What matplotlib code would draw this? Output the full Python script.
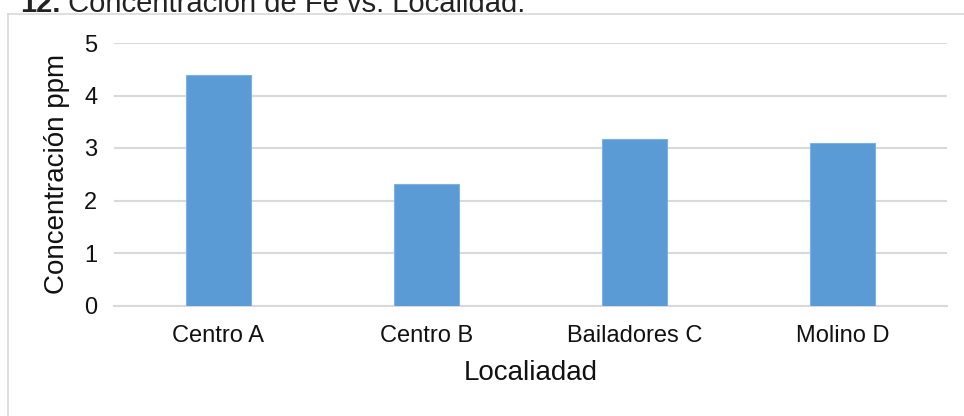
import matplotlib
matplotlib.use("Agg")
import matplotlib.pyplot as plt
from matplotlib.lines import Line2D
from matplotlib.text import Annotation

plt.rcParams['font.family'] = ['Liberation Sans', 'DejaVu Sans']

localidades = ["Centro A", "Centro B", "Bailadores C", "Molino D"]
concentracion = [4.39, 2.32, 3.18, 3.09]
y_ticks = [0, 1, 2, 3, 4, 5]

W, H = 964, 416
fig = plt.figure(figsize=(W / 100, H / 100), dpi=100)

# chart frame (top and left edges)
fig.add_artist(Line2D([7.5 / W, 7.5 / W], [-0.1, 1 - 13.5 / H], color="#D9D9D9", lw=1.2,
                      transform=fig.transFigure))
fig.add_artist(Line2D([7.5 / W, 1.1], [1 - 13.5 / H, 1 - 13.5 / H], color="#D9D9D9", lw=1.2,
                      transform=fig.transFigure))

# title sits partly above the frame
num = fig.text(20 / W, 1 - 12 / H, "12.", fontsize=21, fontweight="bold",
               color="#222222", va="baseline", ha="left")
fig.add_artist(Annotation(" Concentración de Fe vs. Localidad.", xy=(1, 0),
                          xycoords=num, fontsize=21, color="#222222",
                          va="bottom", ha="left"))

ax = fig.add_axes([114 / W, (H - 305.5) / H, (947 - 114) / W, (305.5 - 43) / H])
x = list(range(len(localidades)))
ax.bar(x, concentracion, width=0.3125, color="#5B9BD5", edgecolor="#7FB0E0",
       linewidth=0.8, zorder=3)

ax.set_xlim(-0.5, len(localidades) - 0.5)
ax.set_ylim(0, 5)
ax.set_yticks(y_ticks)
ax.set_xticks(x)
ax.set_xticklabels(localidades)
ax.yaxis.grid(True, color="#D9D9D9", lw=1.5, zorder=0)
ax.set_axisbelow(True)
for s in ["top", "right", "left"]:
    ax.spines[s].set_visible(False)
ax.spines["bottom"].set_color("#D9D9D9")
ax.spines["bottom"].set_linewidth(1.5)
ax.tick_params(axis="both", length=0, labelsize=17, colors="#111111")
ax.tick_params(axis="y", pad=12)
ax.tick_params(axis="x", pad=14)

ax.set_ylabel("Concentración ppm", fontsize=20, color="#111111")
ax.set_xlabel("Localiadad", fontsize=20, color="#111111")
ax.yaxis.set_label_coords((57 - 114) / (947 - 114), 0.5)
ax.xaxis.set_label_coords(0.5, -(373 - 305.5) / (305.5 - 43))
ax.xaxis.label.set_va("center")
ax.yaxis.label.set_va("center")

fig.savefig("out.png", dpi=100)
